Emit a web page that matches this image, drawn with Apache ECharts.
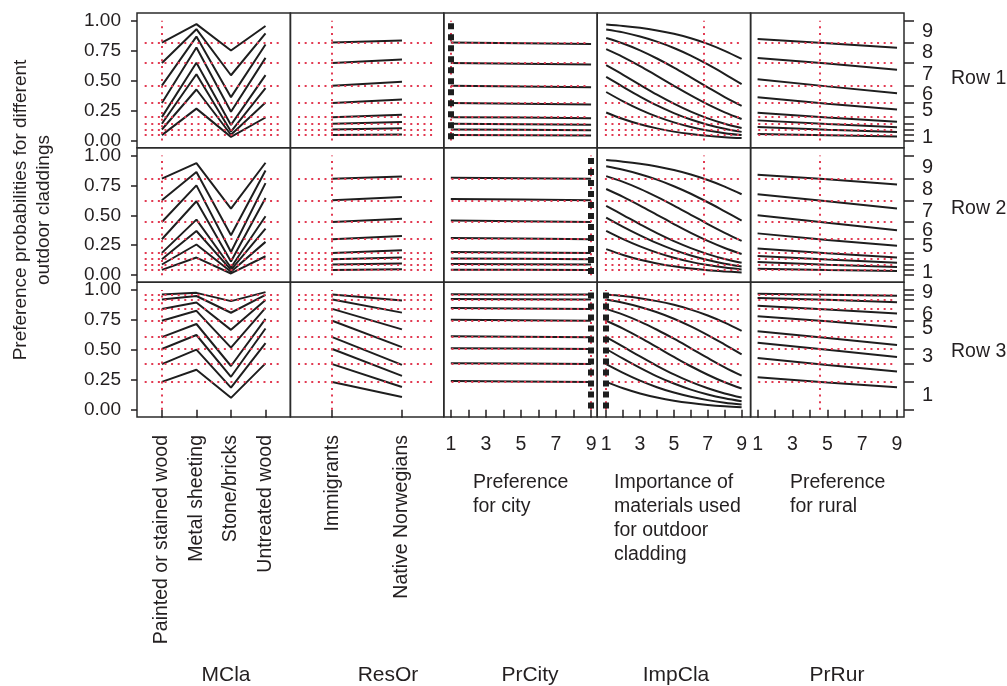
<!DOCTYPE html>
<html><head><meta charset="utf-8">
<script src="https://cdn.jsdelivr.net/npm/echarts@6/dist/echarts.min.js"></script>
<style>html,body{margin:0;padding:0;background:#fff}#c{width:1007px;height:686px}</style>
</head><body><div id="c"></div>
<script>
// ---------------- DATA ----------------
const mclaCategories = ['Painted or stained wood', 'Metal sheeting', 'Stone/bricks', 'Untreated wood'];
const resorCategories = ['Immigrants', 'Native Norwegians'];
const profileX = [1, 5, 9];
const impClaX = [1, 2, 3, 4, 5, 6, 7, 8, 9];
const numericTickValues = [1, 2, 3, 4, 5, 6, 7, 8, 9];
const numericTickLabels = [1, 3, 5, 7, 9];
const yTickLabels = [0, 0.25, 0.5, 0.75, 1];
const factorNames = ['MCla', 'ResOr', 'PrCity', 'ImpCla', 'PrRur'];
const factorDescriptions = ['', '', 'Preference\nfor city', 'Importance of\nmaterials used\nfor outdoor\ncladding', 'Preference\nfor rural'];
const rowNames = ['Row 1', 'Row 2', 'Row 3'];
const responseLabels = [9, 8, 7, 6, 5, 4, 3, 2, 1];
const visibleRightLabels = [[9, 8, 7, 6, 5, 1], [9, 8, 7, 6, 5, 1], [9, 6, 5, 3, 1]];
const yTitle = ['Preference probabilities for different', 'outdoor claddings'];

// Row 1
const row1Levels = [0.818, 0.648, 0.458, 0.313, 0.195, 0.140, 0.092, 0.045];
const row1Current = [1, 1, 1, 6.79, 4.54];
const row1Markers = [false, false, true, false, false];
const row1MCla = [
  [0.818, 0.972, 0.752, 0.956],
  [0.648, 0.930, 0.545, 0.894],
  [0.458, 0.868, 0.362, 0.802],
  [0.313, 0.776, 0.240, 0.690],
  [0.195, 0.650, 0.130, 0.546],
  [0.140, 0.553, 0.075, 0.438],
  [0.092, 0.426, 0.048, 0.318],
  [0.045, 0.266, 0.030, 0.192]];
const row1ResOr = [[0.818, 0.835], [0.648, 0.676], [0.458, 0.490], [0.313, 0.342], [0.195, 0.216], [0.140, 0.155], [0.092, 0.102], [0.045, 0.050]];
const row1PrCity = [[0.818, 0.813, 0.807], [0.648, 0.641, 0.634], [0.458, 0.451, 0.444], [0.313, 0.307, 0.301], [0.195, 0.191, 0.186], [0.140, 0.136, 0.132], [0.092, 0.089, 0.086], [0.045, 0.043, 0.041]];
const row1ImpCla = [
  [0.969, 0.957, 0.941, 0.919, 0.891, 0.854, 0.807, 0.749, 0.681],
  [0.928, 0.903, 0.869, 0.826, 0.773, 0.709, 0.635, 0.555, 0.471],
  [0.856, 0.810, 0.753, 0.685, 0.609, 0.527, 0.444, 0.363, 0.290],
  [0.763, 0.697, 0.622, 0.540, 0.457, 0.376, 0.301, 0.235, 0.180],
  [0.629, 0.549, 0.465, 0.383, 0.308, 0.241, 0.185, 0.140, 0.104],
  [0.531, 0.448, 0.367, 0.293, 0.229, 0.175, 0.132, 0.098, 0.072],
  [0.405, 0.327, 0.258, 0.199, 0.151, 0.113, 0.083, 0.061, 0.045],
  [0.234, 0.179, 0.135, 0.101, 0.074, 0.054, 0.039, 0.028, 0.020]];
const row1PrRur = [[0.847, 0.813, 0.774], [0.690, 0.643, 0.590], [0.511, 0.452, 0.395], [0.362, 0.307, 0.259], [0.232, 0.192, 0.156], [0.168, 0.137, 0.111], [0.112, 0.090, 0.071], [0.055, 0.044, 0.034]];

// Row 2
const row2Levels = [0.806, 0.625, 0.444, 0.300, 0.186, 0.133, 0.089, 0.044];
const row2Current = [1, 1, 9, 6.78, 4.54];
const row2Markers = [false, false, true, false, false];
const row2MCla = [
  [0.806, 0.936, 0.556, 0.939],
  [0.625, 0.861, 0.333, 0.875],
  [0.444, 0.750, 0.194, 0.769],
  [0.300, 0.617, 0.114, 0.644],
  [0.186, 0.464, 0.064, 0.492],
  [0.133, 0.369, 0.044, 0.389],
  [0.089, 0.256, 0.029, 0.278],
  [0.044, 0.147, 0.014, 0.158]];
const row2ResOr = [[0.806, 0.825], [0.625, 0.653], [0.444, 0.472], [0.300, 0.328], [0.186, 0.208], [0.133, 0.147], [0.089, 0.097], [0.044, 0.050]];
const row2PrCity = [[0.814, 0.810, 0.806], [0.636, 0.631, 0.625], [0.456, 0.450, 0.444], [0.311, 0.306, 0.300], [0.194, 0.190, 0.186], [0.139, 0.136, 0.133], [0.093, 0.091, 0.089], [0.046, 0.045, 0.044]];
const row2ImpCla = [
  [0.961, 0.948, 0.931, 0.908, 0.878, 0.841, 0.795, 0.740, 0.676],
  [0.909, 0.880, 0.843, 0.798, 0.743, 0.680, 0.609, 0.533, 0.456],
  [0.827, 0.779, 0.721, 0.654, 0.581, 0.504, 0.427, 0.354, 0.286],
  [0.720, 0.654, 0.581, 0.504, 0.427, 0.353, 0.286, 0.227, 0.177],
  [0.578, 0.502, 0.425, 0.351, 0.284, 0.226, 0.176, 0.135, 0.103],
  [0.480, 0.403, 0.332, 0.267, 0.211, 0.164, 0.126, 0.095, 0.072],
  [0.370, 0.301, 0.240, 0.188, 0.145, 0.111, 0.084, 0.063, 0.047],
  [0.217, 0.169, 0.129, 0.098, 0.074, 0.055, 0.041, 0.031, 0.023]];
const row2PrRur = [[0.839, 0.802, 0.758], [0.676, 0.618, 0.557], [0.500, 0.437, 0.376], [0.349, 0.294, 0.245], [0.222, 0.182, 0.147], [0.161, 0.130, 0.104], [0.109, 0.087, 0.069], [0.054, 0.043, 0.034]];

// Row 3
const row3Levels = [0.963, 0.921, 0.843, 0.744, 0.607, 0.508, 0.382, 0.233];
const row3Current = [1, 1, 9, 1, 4.54];
const row3Markers = [false, false, true, true, false];
const row3MCla = [
  [0.963, 0.977, 0.908, 0.983],
  [0.921, 0.951, 0.811, 0.960],
  [0.843, 0.897, 0.668, 0.918],
  [0.744, 0.827, 0.520, 0.852],
  [0.607, 0.717, 0.366, 0.760],
  [0.508, 0.625, 0.276, 0.679],
  [0.382, 0.503, 0.185, 0.558],
  [0.233, 0.335, 0.100, 0.388]];
const row3ResOr = [[0.963, 0.914], [0.921, 0.812], [0.843, 0.672], [0.744, 0.524], [0.607, 0.376], [0.508, 0.284], [0.382, 0.190], [0.233, 0.107]];
const row3PrCity = [[0.965, 0.964, 0.963], [0.925, 0.923, 0.921], [0.850, 0.847, 0.843], [0.752, 0.748, 0.744], [0.615, 0.611, 0.607], [0.515, 0.512, 0.508], [0.390, 0.386, 0.382], [0.240, 0.237, 0.233]];
const row3ImpCla = [
  [0.963, 0.950, 0.932, 0.908, 0.877, 0.837, 0.788, 0.728, 0.659],
  [0.921, 0.894, 0.859, 0.815, 0.761, 0.697, 0.624, 0.545, 0.464],
  [0.843, 0.795, 0.737, 0.669, 0.594, 0.514, 0.433, 0.355, 0.285],
  [0.744, 0.678, 0.603, 0.523, 0.442, 0.364, 0.293, 0.230, 0.178],
  [0.607, 0.527, 0.446, 0.368, 0.296, 0.233, 0.180, 0.137, 0.103],
  [0.508, 0.427, 0.350, 0.280, 0.220, 0.169, 0.128, 0.096, 0.071],
  [0.382, 0.309, 0.244, 0.189, 0.144, 0.109, 0.081, 0.060, 0.044],
  [0.233, 0.180, 0.137, 0.103, 0.076, 0.056, 0.041, 0.030, 0.022]];
const row3PrRur = [[0.970, 0.962, 0.952], [0.935, 0.919, 0.899], [0.869, 0.839, 0.804], [0.782, 0.739, 0.690], [0.656, 0.600, 0.541], [0.561, 0.501, 0.441], [0.433, 0.375, 0.321], [0.273, 0.228, 0.188]];

// ---------------- LAYOUT / STYLE ----------------
const FONT = '"Liberation Sans", Arial, sans-serif';
const TXT = '#231f20';
const RED = '#e23a52';
const LEFT = 137, RIGHT = 904, TOP = 13, BOTTOM = 417;
const colW = (RIGHT - LEFT) / 5, rowH = (BOTTOM - TOP) / 3;
const xRanges = [[0.28, 4.72], [0.4, 2.6], [0.6, 9.35], [0.47, 9.53], [0.6, 9.4]];
const yMin = -0.06, yMax = 1.065;

const rows = [
  { levels: row1Levels, current: row1Current, markers: row1Markers, panels: [row1MCla, row1ResOr, row1PrCity, row1ImpCla, row1PrRur] },
  { levels: row2Levels, current: row2Current, markers: row2Markers, panels: [row2MCla, row2ResOr, row2PrCity, row2ImpCla, row2PrRur] },
  { levels: row3Levels, current: row3Current, markers: row3Markers, panels: [row3MCla, row3ResOr, row3PrCity, row3ImpCla, row3PrRur] }
];
const panelX = [mclaCategories.map((_, i) => i + 1), resorCategories.map((_, i) => i + 1), profileX, impClaX, profileX];

const grids = [], xAxes = [], yAxes = [], series = [];
rows.forEach((row, r) => {
  for (let c = 0; c < 5; c++) {
    const g = r * 5 + c;
    grids.push({ left: LEFT + c * colW, top: TOP + r * rowH, width: colW, height: rowH, show: true,
      borderColor: '#2b2b2b', borderWidth: 1.5, backgroundColor: 'transparent' });
    const bottom = r === 2;
    let tickCustom, labelCustom, rotate = 0, formatter;
    if (c === 0) { tickCustom = labelCustom = panelX[0]; rotate = 90; formatter = v => mclaCategories[Math.round(v) - 1]; }
    else if (c === 1) { tickCustom = labelCustom = panelX[1]; rotate = 90; formatter = v => resorCategories[Math.round(v) - 1]; }
    else { tickCustom = numericTickValues; labelCustom = numericTickLabels; formatter = v => String(Math.round(v)); }
    xAxes.push({ type: 'value', gridIndex: g, min: xRanges[c][0], max: xRanges[c][1],
      splitLine: { show: false }, axisLine: { show: false },
      axisTick: { show: bottom, customValues: tickCustom, length: 8, lineStyle: { color: TXT, width: 1.5 } },
      axisLabel: { show: bottom, customValues: labelCustom, formatter: formatter, rotate: rotate,
        fontSize: 19.5, color: TXT, fontFamily: FONT, margin: rotate ? 18 : 18 } });
    yAxes.push({ type: 'value', gridIndex: g, min: yMin, max: yMax,
      splitLine: { show: false }, axisLine: { show: false },
      axisTick: { show: c === 0, customValues: yTickLabels, length: 6, lineStyle: { color: TXT, width: 1.5 } },
      axisLabel: { show: c === 0, customValues: yTickLabels, formatter: v => v.toFixed(2),
        fontSize: 19, color: TXT, fontFamily: FONT, margin: 16 } });

    // reference lines (current settings)
    const x0 = xRanges[c][0], x1 = xRanges[c][1], inset = (x1 - x0) * 0.05;
    const ml = row.levels.map(l => [{ coord: [x0 + inset, l] }, { coord: [x1 - inset, l] }]);
    ml.push([{ coord: [row.current[c], 0] }, { coord: [row.current[c], 1] }]);
    series.push({ type: 'line', xAxisIndex: g, yAxisIndex: g, data: [], z: 1, silent: true,
      markLine: { silent: true, symbol: ['none', 'none'], label: { show: false }, animation: false,
        lineStyle: { color: RED, width: 2, type: [2, 4.6], cap: 'butt' }, emphasis: { disabled: true }, data: ml } });

    // profile curves
    row.panels[c].forEach(curve => {
      series.push({ type: 'line', xAxisIndex: g, yAxisIndex: g, z: 3, silent: true,
        data: curve.map((v, i) => [panelX[c][i], v]), showSymbol: false, symbol: 'none',
        smooth: c === 3 ? 0.35 : false,
        lineStyle: { color: '#1e1e1e', width: 2 } });
    });

    if (row.markers[c]) {
      series.push({ type: 'line', xAxisIndex: g, yAxisIndex: g, data: [], z: 5, silent: true,
        markLine: { silent: true, symbol: ['none', 'none'], label: { show: false }, animation: false,
          lineStyle: { color: '#1e1e1e', width: 6, type: [6, 5], cap: 'butt' }, emphasis: { disabled: true },
          data: [[{ coord: [row.current[c], 0.01] }, { coord: [row.current[c], 1.0] }]] } });
    }
  }
});

// right-hand response-category axes
rows.forEach((row, r) => {
  const bounds = [1].concat(row.levels, [0]);
  const mids = [], midLabels = [];
  for (let k = 0; k < 9; k++) {
    const cat = responseLabels[k];
    if (visibleRightLabels[r].indexOf(cat) >= 0) { mids.push((bounds[k] + bounds[k + 1]) / 2); midLabels.push(cat); }
  }
  yAxes.push({ type: 'value', gridIndex: r * 5 + 4, position: 'right', min: yMin, max: yMax,
    splitLine: { show: false }, axisLine: { show: false },
    axisTick: { show: true, customValues: bounds, length: 10, lineStyle: { color: TXT, width: 1.5 } },
    axisLabel: { show: true, customValues: mids, fontSize: 20, color: TXT, fontFamily: FONT, margin: 18,
      formatter: v => { let b = 0; mids.forEach((m, i) => { if (Math.abs(m - v) < Math.abs(mids[b] - v)) b = i; }); return String(midLabels[b]); } } });
});

const graphic = [];
graphic.push({ type: 'text', x: 21, y: 210, rotation: Math.PI / 2,
  style: { text: yTitle[0], font: '19px ' + FONT, fill: TXT, textAlign: 'center', textVerticalAlign: 'middle' } });
graphic.push({ type: 'text', x: 44, y: 210, rotation: Math.PI / 2,
  style: { text: yTitle[1], font: '19px ' + FONT, fill: TXT, textAlign: 'center', textVerticalAlign: 'middle' } });
const rowLabelY = [79, 209, 352];
rowNames.forEach((t, r) => graphic.push({ type: 'text', x: 951, y: rowLabelY[r],
  style: { text: t, font: '19.5px ' + FONT, fill: TXT, textAlign: 'left', textVerticalAlign: 'middle' } }));
const descX = [0, 0, 473, 614, 790];
factorDescriptions.forEach((t, c) => { if (t) graphic.push({ type: 'text', x: descX[c], y: 471,
  style: { text: t, font: '19.5px ' + FONT, fill: TXT, textAlign: 'left', textVerticalAlign: 'top', lineHeight: 24 } }); });
const nameX = [226, 388, 530, 676, 837];
factorNames.forEach((t, c) => graphic.push({ type: 'text', x: nameX[c], y: 675,
  style: { text: t, font: '21px ' + FONT, fill: TXT, textAlign: 'center', textVerticalAlign: 'middle' } }));

const chart = echarts.init(document.getElementById('c'), null, { renderer: 'canvas', width: 1007, height: 686 });
chart.setOption({
  animation: false,
  backgroundColor: '#ffffff',
  grid: grids, xAxis: xAxes, yAxis: yAxes, series: series, graphic: graphic
});
</script>
</body></html>
